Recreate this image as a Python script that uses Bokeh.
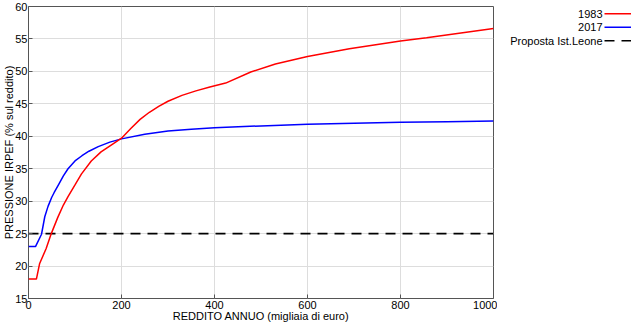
from bokeh.plotting import figure
from bokeh.models import Range1d, FixedTicker
from bokeh.layouts import row
from bokeh.core.properties import value
from bokeh.embed import file_html
from bokeh.resources import INLINE

# ---- data ----
x1983 = [0, 15, 17, 24, 38, 49, 63, 75, 85, 100, 114, 135, 156, 185, 200, 220,
         240, 260, 280, 300, 330, 360, 390, 424, 478, 531, 600, 690, 800, 856, 1000]
y1983 = [18.0, 18.0, 18.0, 20.4, 22.7, 25.0, 27.5, 29.4, 30.7, 32.5, 34.2, 36.2,
         37.6, 39.0, 39.7, 41.2, 42.6, 43.7, 44.6, 45.4, 46.3, 47.0, 47.6, 48.2,
         49.9, 51.15, 52.3, 53.5, 54.7, 55.2, 56.6]

x2017 = [0, 15, 28, 35, 42, 50, 55, 65, 75, 85, 100, 115, 130, 150, 175, 200,
         250, 300, 350, 400, 500, 600, 700, 800, 900, 1000]
y2017 = [23.0, 23.0, 24.9, 27.6, 29.2, 30.6, 31.3, 32.6, 33.9, 35.0, 36.2, 37.0,
         37.7, 38.4, 39.1, 39.6, 40.3, 40.8, 41.1, 41.3, 41.6, 41.85, 42.0, 42.15,
         42.25, 42.35]

prop_x = [0, 1000]
prop_y = [25, 25]

x_ticks = [0, 200, 400, 600, 800, 1000]
y_ticks = [15, 20, 25, 30, 35, 40, 45, 50, 55, 60]

series_names = ["1983", "2017", "Proposta Ist.Leone"]
series_colors = ["#ff0000", "#0000ff", "#000000"]
series_dash = ["solid", "solid", "10 7"]

x_title = "REDDITO ANNUO (migliaia di euro)"
y_title = "PRESSIONE IRPEF (% sul reddito)"

FONT = "Liberation Sans"
FS = "11px"
FRAME = "#555555"
MAIN_W, H, LEG_W = 497, 324, 134

p = figure(width=MAIN_W, height=H, output_backend="svg", toolbar_location=None,
           x_range=Range1d(0, 1000), y_range=Range1d(15, 60),
           min_border_left=0, min_border_right=4, min_border_top=6,
           min_border_bottom=0)
p.background_fill_color = "white"
p.border_fill_color = "white"
p.outline_line_color = FRAME
p.outline_line_width = 1

for ax in (p.xaxis[0], p.yaxis[0]):
    ax.axis_line_color = None
    ax.major_tick_in = 4
    ax.major_tick_out = 0
    ax.minor_tick_line_color = None
    ax.major_tick_line_color = FRAME
    ax.major_label_text_font = FONT
    ax.major_label_text_font_size = FS
    ax.major_label_text_color = "black"
    ax.axis_label_text_font = FONT
    ax.axis_label_text_font_size = FS
    ax.axis_label_text_font_style = "normal"
    ax.axis_label_text_color = "black"
    ax.major_label_standoff = 2
    ax.axis_label_standoff = 0
p.xaxis.axis_label_standoff = -2
p.yaxis.major_label_standoff = 1
p.yaxis.axis_label_standoff = -3

p.xaxis.ticker = FixedTicker(ticks=x_ticks)
p.yaxis.ticker = FixedTicker(ticks=y_ticks)
p.xaxis.axis_label = x_title
p.yaxis.axis_label = y_title

p.xgrid.ticker = FixedTicker(ticks=x_ticks)
p.ygrid.ticker = FixedTicker(ticks=y_ticks)
p.grid.grid_line_color = "#dddddd"
p.grid.grid_line_width = 1

p.line(prop_x, prop_y, color=series_colors[2], line_width=1.6, line_dash=series_dash[2])
p.line(x2017, y2017, color=series_colors[1], line_width=1.5)
p.line(x1983, y1983, color=series_colors[0], line_width=1.5)

# ---- legend panel (text right-aligned, sample line on the right) ----
leg = figure(width=LEG_W, height=H, output_backend="svg", toolbar_location=None,
             x_range=Range1d(0, LEG_W), y_range=Range1d(H, 0),
             min_border=0, x_axis_type=None, y_axis_type=None)
leg.outline_line_color = None
leg.grid.visible = False

row_y = [8, 23, 38]
text_x = 105
line_x0, line_x1 = 107, 134
leg.text(x=[text_x] * 3, y=row_y, text=series_names, text_align="right",
         text_baseline="middle", text_font=value(FONT), text_font_size=FS,
         text_color="black")
for i in range(3):
    leg.line([line_x0, line_x1], [row_y[i], row_y[i]], color=series_colors[i],
             line_width=1.5, line_dash=series_dash[i])

layout = row(p, leg)
open("out.html", "w").write(file_html(layout, INLINE))
